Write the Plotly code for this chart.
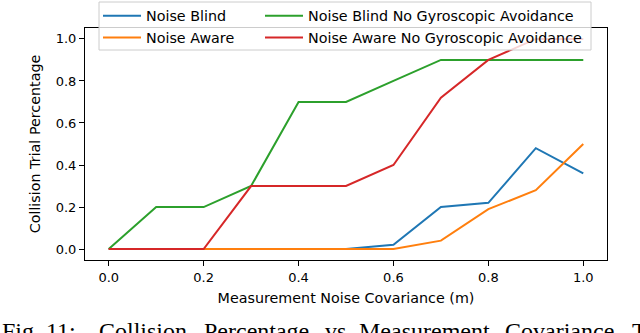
import plotly.graph_objects as go

# ---- data ----
noise_cov = [0.0, 0.1, 0.2, 0.3, 0.4, 0.5, 0.6, 0.7, 0.8, 0.9, 1.0]
noise_blind = [0.0, 0.0, 0.0, 0.0, 0.0, 0.0, 0.02, 0.20, 0.22, 0.48, 0.36]
noise_aware = [0.0, 0.0, 0.0, 0.0, 0.0, 0.0, 0.0, 0.04, 0.19, 0.28, 0.50]
blind_no_gyro = [0.0, 0.2, 0.2, 0.3, 0.7, 0.7, 0.8, 0.9, 0.9, 0.9, 0.9]
aware_no_gyro = [0.0, 0.0, 0.0, 0.3, 0.3, 0.3, 0.4, 0.72, 0.9, 1.0, 1.0]

series_names = ["Noise Blind", "Noise Aware",
                "Noise Blind No Gyroscopic Avoidance",
                "Noise Aware No Gyroscopic Avoidance"]
series_values = [noise_blind, noise_aware, blind_no_gyro, aware_no_gyro]
series_colors = ["#1f77b4", "#ff7f0e", "#2ca02c", "#d62728"]
series_legends = ["legend", "legend", "legend2", "legend2"]

tick_vals = [0.0, 0.2, 0.4, 0.6, 0.8, 1.0]
tick_text = ["0.0", "0.2", "0.4", "0.6", "0.8", "1.0"]

x_title = "Measurement Noise Covariance (m)"
y_title = "Collision Trial Percentage"
caption_words = ["Fig.", "11:", "Collision", "Percentage", "vs",
                 "Measurement", "Covariance.", "T"]
caption_px = [0, 44, 97, 202, 323, 357, 503, 630]

# ---- layout geometry ----
W, H = 640, 333
ML, MR, MT, MB = 85, 33, 28, 73
PW, PH = W - ML - MR, H - MT - MB


def px_x(px):
    return (px - ML) / PW


def px_y(py):
    return (H - MB - py) / PH


fig = go.Figure()
for name, vals, col, lg in zip(series_names, series_values, series_colors, series_legends):
    fig.add_trace(go.Scatter(x=noise_cov, y=vals, mode="lines", name=name,
                             line=dict(color=col, width=2), legend=lg))

tick_font = dict(family="DejaVu Sans", size=13, color="black")
lab_font = dict(family="DejaVu Sans", size=14.3, color="black")

axis_common = dict(showline=True, linecolor="black", linewidth=1, mirror=True,
                   ticks="outside", ticklen=5, tickwidth=1, tickcolor="black",
                   showgrid=False, zeroline=False, tickvals=tick_vals,
                   ticktext=tick_text, tickfont=tick_font)

fig.update_layout(
    width=W, height=H,
    margin=dict(l=ML, r=MR, t=MT, b=MB, pad=0, autoexpand=False),
    paper_bgcolor="white", plot_bgcolor="white",
    xaxis=dict(range=[-0.05, 1.05], title=dict(text=x_title, font=lab_font, standoff=9),
               automargin=False, **axis_common),
    yaxis=dict(range=[-0.052, 1.052], title=dict(text=y_title, font=lab_font, standoff=11),
               automargin=False, **axis_common),
    legend=dict(x=px_x(98), y=px_y(0), xanchor="left", yanchor="top",
                bgcolor="rgba(0,0,0,0)", borderwidth=0, font=lab_font,
                itemwidth=38, tracegroupgap=0),
    legend2=dict(x=px_x(260), y=px_y(0), xanchor="left", yanchor="top",
                 bgcolor="rgba(0,0,0,0)", borderwidth=0, font=lab_font,
                 itemwidth=38, tracegroupgap=0),
    showlegend=True,
)

# combined legend frame
fig.add_shape(type="rect", xref="paper", yref="paper",
              x0=px_x(99), x1=px_x(591), y0=px_y(50), y1=px_y(2),
              fillcolor="rgba(255,255,255,0.8)",
              line=dict(color="#cccccc", width=1), layer="above")

# caption
for w, p in zip(caption_words, caption_px):
    fig.add_annotation(text=w, xref="paper", yref="paper", x=px_x(p), y=px_y(316),
                       xanchor="left", yanchor="top", showarrow=False,
                       font=dict(family="Liberation Serif", size=24, color="black"))

fig.write_html("out.html", config={"displayModeBar": False},
               post_script="document.body.style.margin='0';document.body.style.overflow='hidden';")
